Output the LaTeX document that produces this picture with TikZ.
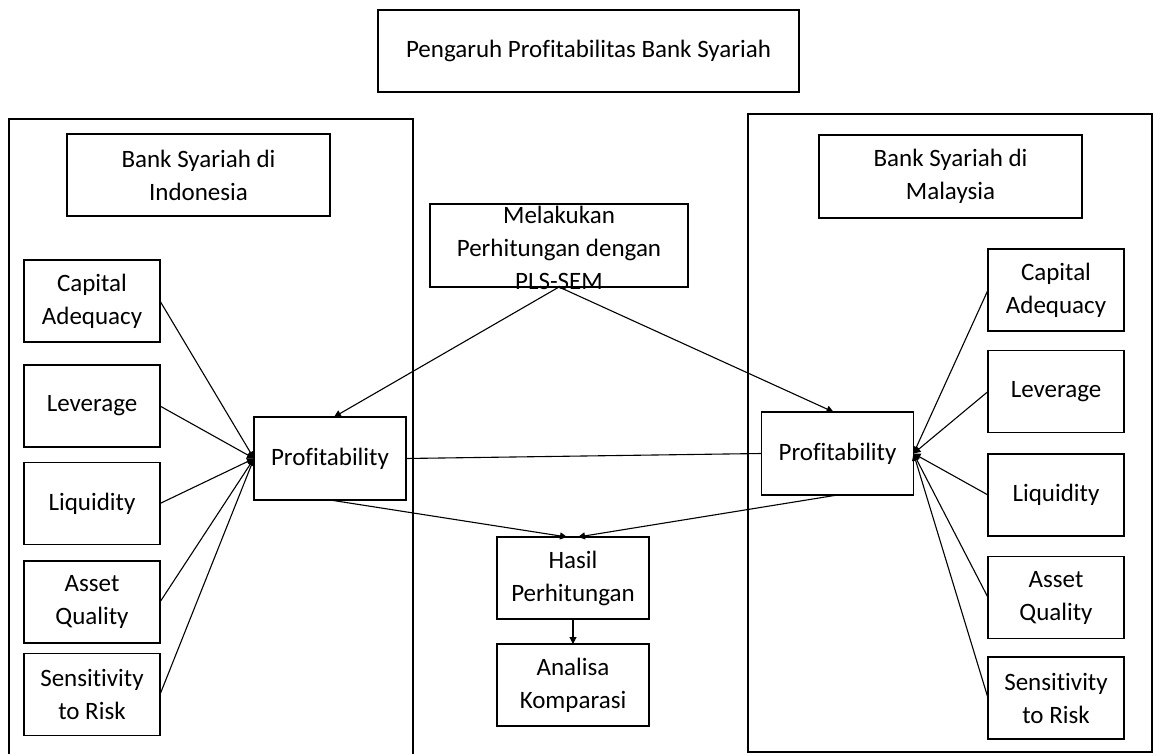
\documentclass[tikz,border=0pt]{standalone}
\usepackage{fontspec}
\setmainfont{Carlito}[Ligatures=NoCommon]
\usetikzlibrary{arrows.meta,calc}

\begin{document}
\begin{tikzpicture}[
  x=1pt, y=-1pt,
  line width=1.1pt,
  every node/.style={inner sep=0pt, outer sep=0pt},
  frame/.style={draw, line width=1.2pt},
  box/.style={draw, line width=1.2pt, align=center, font=\fontsize{25}{33}\selectfont},
  lbl/.style={align=center, font=\fontsize{25}{33}\selectfont},
  ind/.style={box, minimum width=136pt, minimum height=82pt},
  prof/.style={box, minimum width=152pt, minimum height=83pt},
  arr/.style={-{Triangle[length=7pt,width=7pt]}},
  link/.style={line width=1.1pt}
]
\useasboundingbox (0,0) rectangle (1154,754);
\fill[white] (0,0) rectangle (1154,754);

% title
\node[box, minimum width=421pt, minimum height=82pt] (title) at (588.5,51)
  {Pengaruh Profitabilitas Bank Syariah};

% country panels
\draw[frame] (9,770) -- (9,119) -- (413,119) -- (413,770);
\draw[frame] (748,114) rectangle (1152,752);

\node[box, minimum width=263pt, minimum height=82pt] (indo) at (198.5,175)
  {Bank Syariah di\\Indonesia};
\node[box, minimum width=263pt, minimum height=83pt] (malay) at (950.5,176.5)
  {Bank Syariah di\\Malaysia};

% left indicators
\node[ind] (lcap) at (92,301)   {Capital\\Adequacy};
\node[ind] (llev) at (92,406)   {Leverage};
\node[ind] (lliq) at (92,503.5) {Liquidity};
\node[ind] (lass) at (92,602)   {Asset\\Quality};
\node[ind] (lsen) at (92,694.5) {Sensitivity\\to Risk};

% right indicators
\node[ind] (rcap) at (1056,290)   {Capital\\Adequacy};
\node[ind] (rlev) at (1056,391.5) {Leverage};
\node[ind] (rliq) at (1056,495)   {Liquidity};
\node[ind] (rass) at (1056,597.5) {Asset\\Quality};
\node[ind] (rsen) at (1056,698)   {Sensitivity\\to Risk};

% profitability
\node[prof] (lprof) at (330,458.5) {Profitability};
\node[prof] (rprof) at (837.5,453.5) {Profitability};

% method box (its text runs past the frame)
\node[draw, line width=1.2pt, minimum width=258pt, minimum height=83pt] (mel) at (559,245.5) {};
\node[lbl] at (559,248) {Melakukan\\Perhitungan dengan\\PLS-SEM};

% results
\node[box, minimum width=152pt, minimum height=82pt] (hasil) at (573,578) {Hasil\\Perhitungan};
\node[box, minimum width=152pt, minimum height=82pt] (analisa) at (573,685) {Analisa\\Komparasi};

% connectors
\foreach \n in {lcap,llev,lliq,lass,lsen}
  \draw[link,arr] (\n.east) -- (lprof.west);
\foreach \n in {rcap,rlev,rliq,rass,rsen}
  \draw[link,arr] (\n.west) -- (rprof.east);

\draw[link,arr] (mel.south) -- ([xshift=4pt]lprof.north);
\draw[link,arr] (mel.south) -- ([xshift=-4pt]rprof.north);
\draw[link] (lprof.east) -- (rprof.west);
\draw[link,arr] (lprof.south) -- ([xshift=-6pt]hasil.north);
\draw[link,arr] (rprof.south) -- ([xshift=5pt]hasil.north);
\draw[link,arr] (hasil.south) -- (analisa.north);
\end{tikzpicture}
\end{document}
